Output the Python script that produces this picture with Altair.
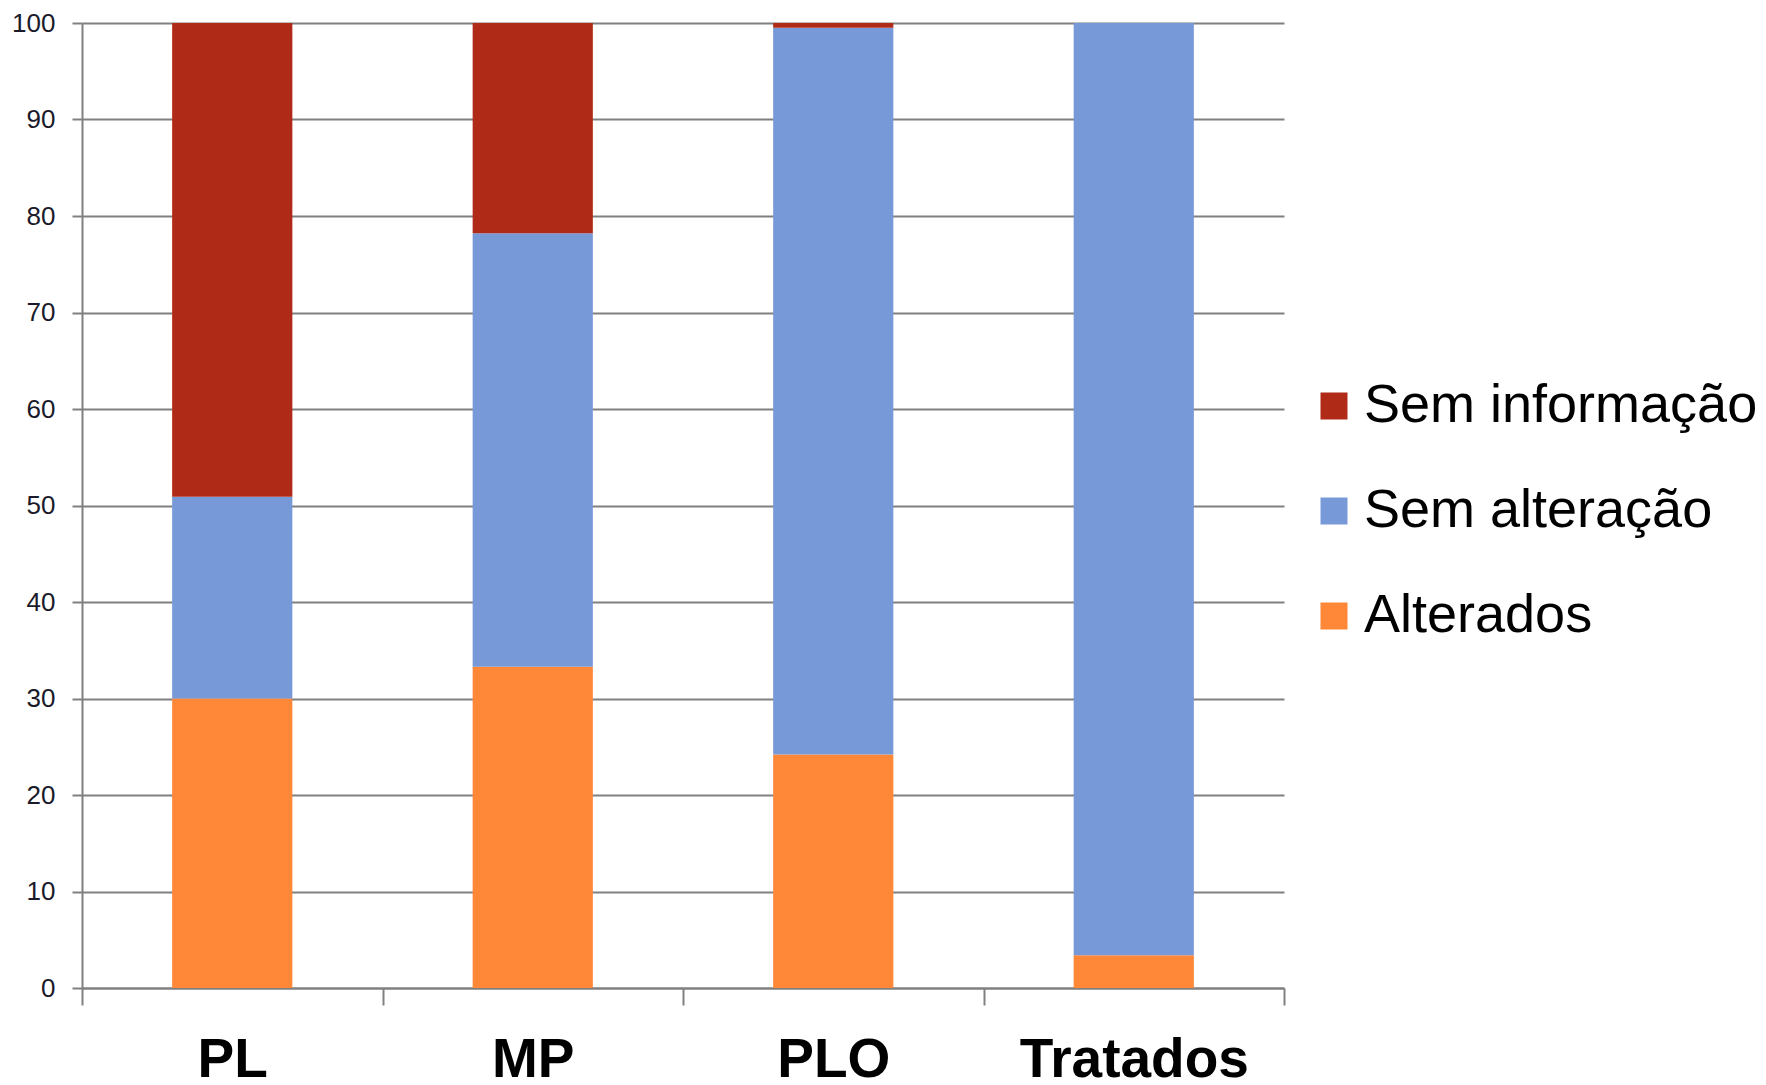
import altair as alt
import pandas as pd

groups = ["PL", "MP", "PLO", "Tratados"]
series = ["Sem informação", "Sem alteração", "Alterados"]
alterados = [30.0, 33.3, 24.2, 3.4]
sem_alteracao = [20.9, 44.9, 75.3, 96.6]
sem_informacao = [49.1, 21.8, 0.5, 0.0]
colors = ["#B02B17", "#7899D8", "#FF8838"]
y_ticks = list(range(0, 101, 10))

rows = []
for i, g in enumerate(groups):
    rows.append({"grupo": g, "serie": "Alterados", "valor": alterados[i], "ord": 0})
    rows.append({"grupo": g, "serie": "Sem alteração", "valor": sem_alteracao[i], "ord": 1})
    rows.append({"grupo": g, "serie": "Sem informação", "valor": sem_informacao[i], "ord": 2})
df = pd.DataFrame(rows)

FONT = "Liberation Sans"
GRAY = "#808080"

chart = alt.Chart(df).mark_bar(width=alt.RelativeBandSize(0.4)).encode(
    x=alt.X(
        "grupo:N",
        sort=groups,
        scale=alt.Scale(paddingInner=0, paddingOuter=0),
        axis=alt.Axis(
            title=None, labelAngle=0, labelFont=FONT, labelFontWeight="bold",
            labelFontSize=55, labelColor="#000000", labelBaseline="alphabetic",
            labelPadding=71, labelLimit=500, tickBand="extent", ticks=True,
            tickSize=17, tickColor=GRAY, tickWidth=2, domainColor=GRAY,
            domainWidth=2, grid=False,
        ),
    ),
    y=alt.Y(
        "valor:Q",
        stack="zero",
        scale=alt.Scale(domain=[0, 100], nice=False),
        axis=alt.Axis(
            title=None, values=y_ticks, grid=True, gridColor=GRAY, gridWidth=2,
            tickSize=10, tickColor=GRAY, tickWidth=2, domainColor=GRAY,
            domainWidth=2, labelFont=FONT, labelFontSize=26, labelColor="#1a1a2a",
            labelPadding=17,
        ),
    ),
    color=alt.Color(
        "serie:N",
        scale=alt.Scale(domain=series, range=colors),
        legend=alt.Legend(
            title=None, orient="none", legendX=1225, legendY=356,
            symbolType="square", symbolSize=729, symbolStrokeWidth=0,
            labelFont=FONT, labelFontSize=54, labelColor="#000000",
            rowPadding=51, labelOffset=3, labelLimit=600,
        ),
    ),
    order=alt.Order("ord:Q", sort="ascending"),
).properties(
    width=1202,
    height=965,
    autosize=alt.AutoSizeParams(type="none"),
    padding={"left": 74, "top": 15, "right": 474, "bottom": 97},
).configure_view(stroke=None)

chart.save("out.html", embed_options={"renderer": "svg", "actions": False})
